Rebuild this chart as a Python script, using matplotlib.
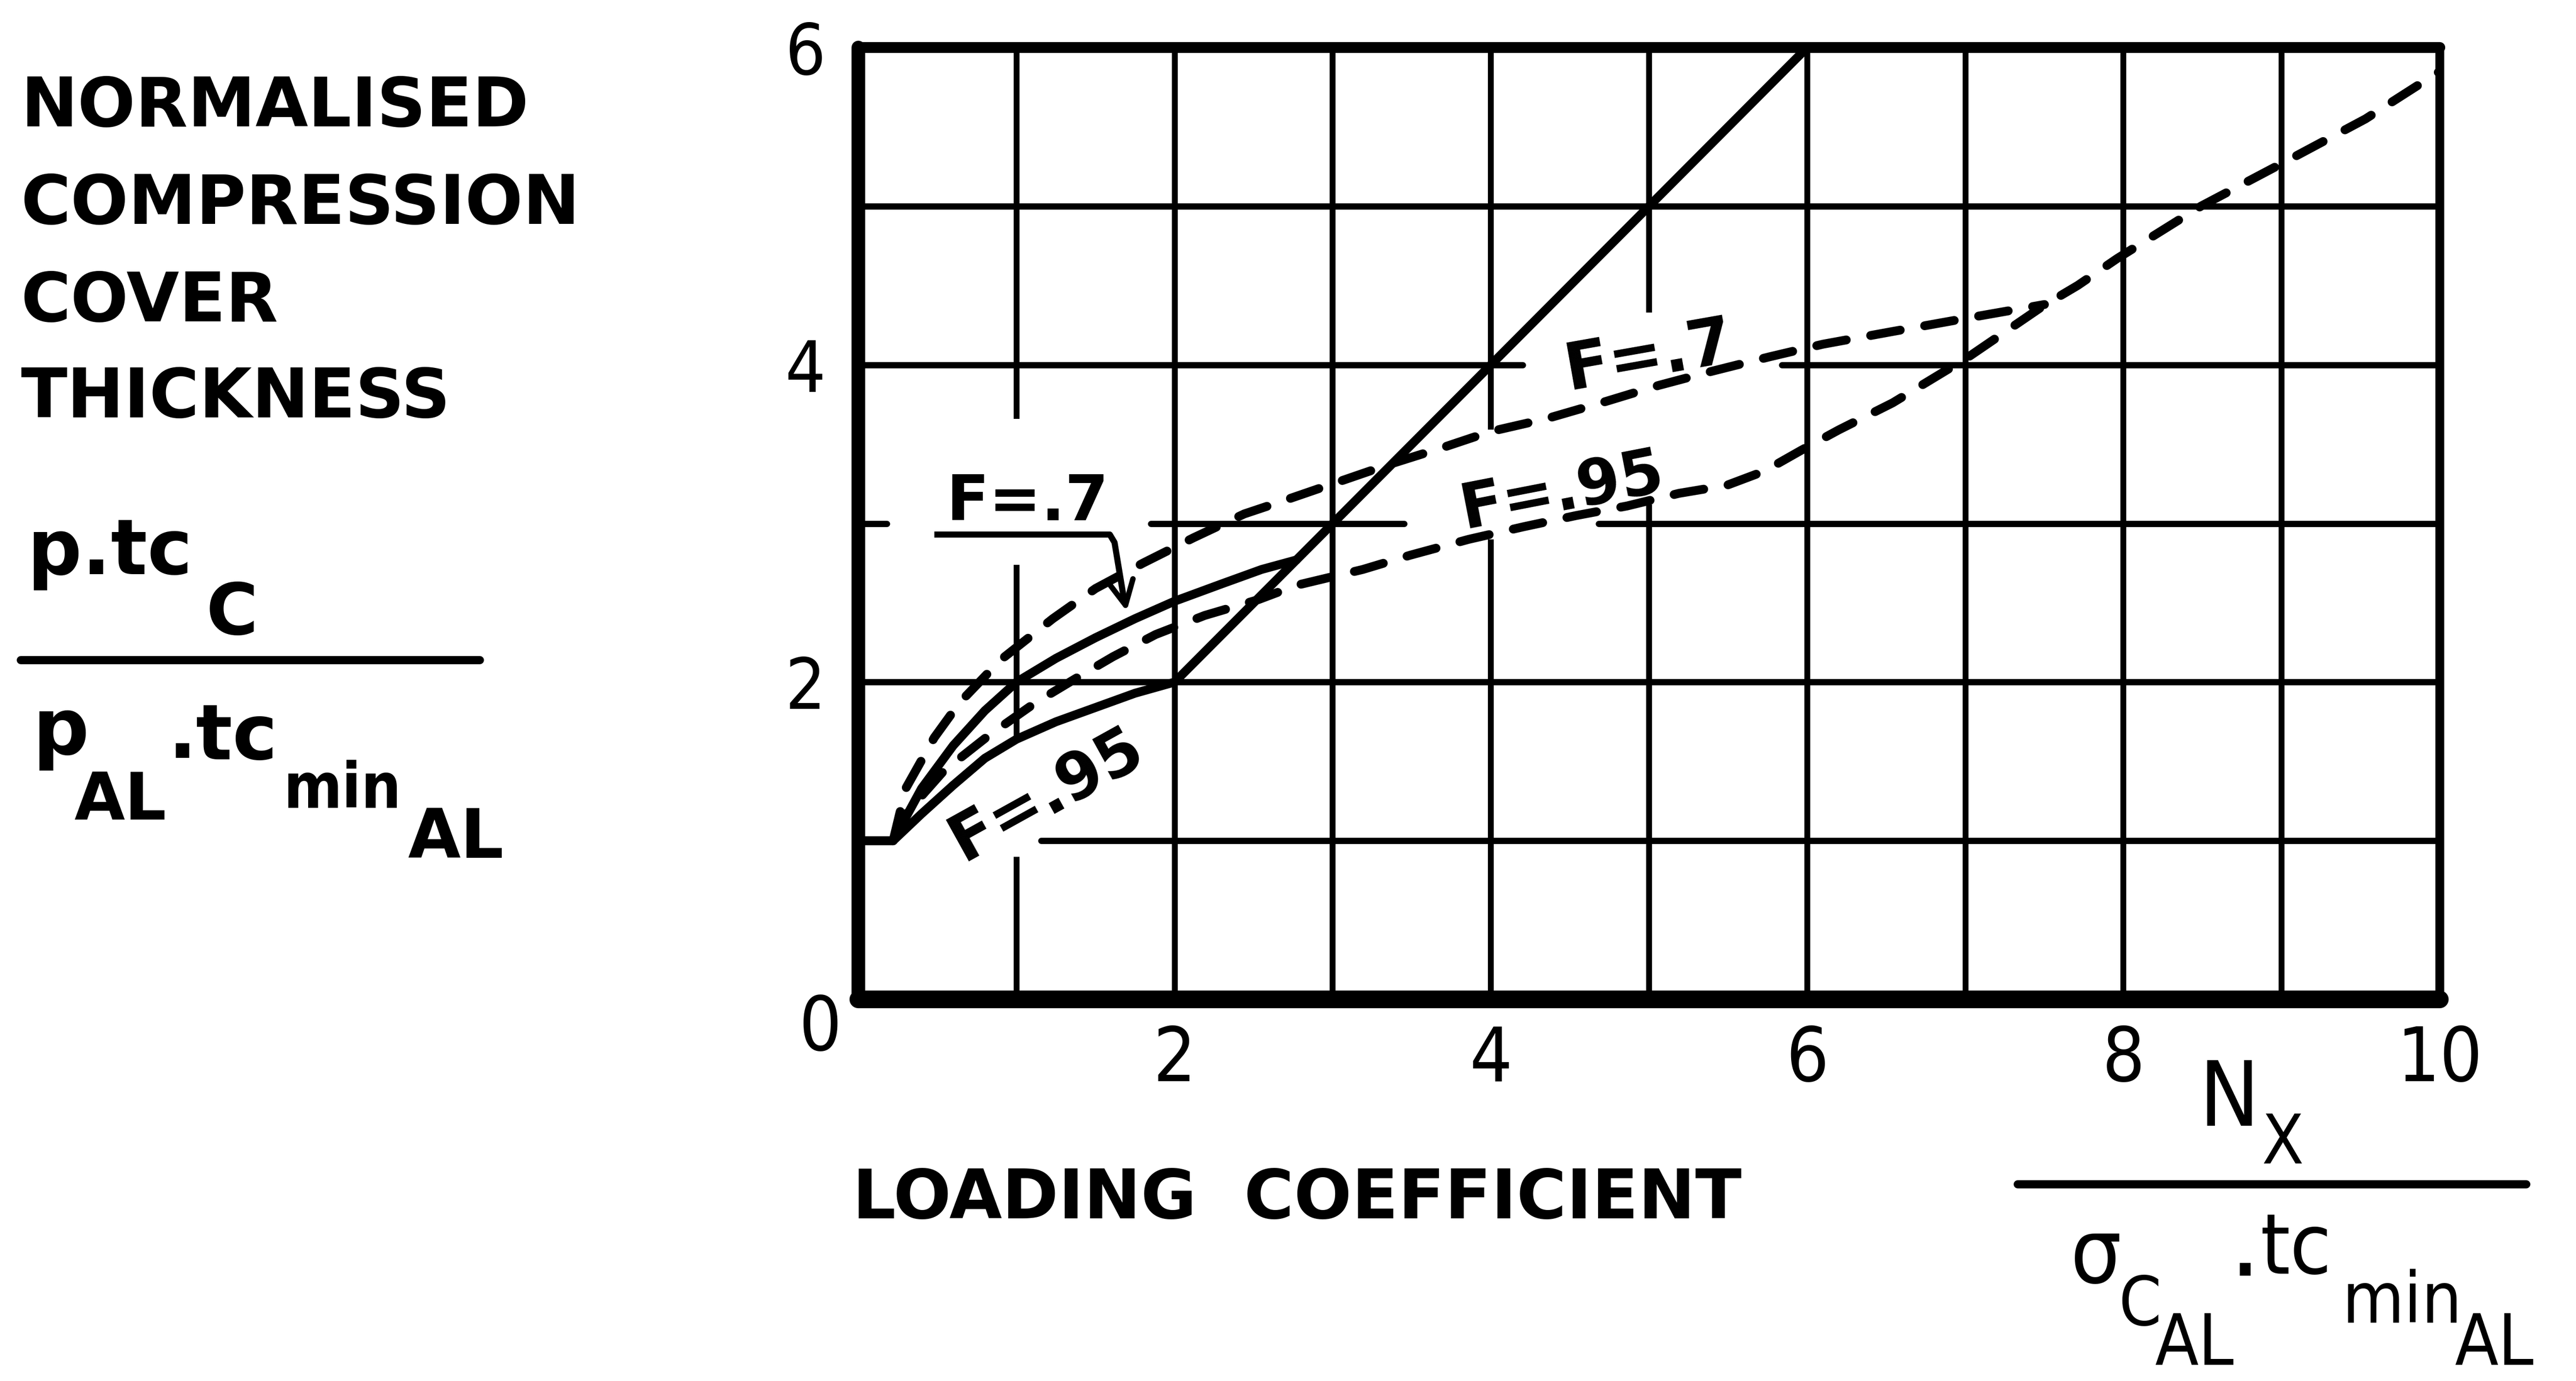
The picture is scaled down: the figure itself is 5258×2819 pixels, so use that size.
import matplotlib
matplotlib.use("Agg")
import matplotlib.pyplot as plt
from matplotlib.lines import Line2D

# ---------------- data ----------------
# solid curve, F = .95 (lower solid)
solid_f95_x = [0.0, 0.22, 0.4, 0.6, 0.8, 1.0, 1.25, 1.5, 1.75, 2.0]
solid_f95_y = [1.0, 1.0, 1.17, 1.35, 1.52, 1.64, 1.75, 1.84, 1.93, 2.0]
# solid curve, F = .7 (upper solid)
solid_f7_x = [0.0, 0.22, 0.4, 0.6, 0.8, 1.0, 1.25, 1.5, 1.75, 2.0, 2.3, 2.55, 2.77]
solid_f7_y = [1.0, 1.0, 1.33, 1.6, 1.82, 2.0, 2.15, 2.28, 2.4, 2.51, 2.62, 2.71, 2.77]
# straight solid line
diag_x = [2.0, 6.0]
diag_y = [2.0, 6.0]
# dashed curve, F = .7
dash_f7_x = [0.22, 0.3, 0.48, 0.64, 0.9, 1.23, 1.5, 1.8, 2.12, 2.44, 2.65, 3.0, 3.35,
             3.7, 4.0, 4.35, 4.73, 5.06, 5.4, 5.76, 6.1, 6.54, 7.1, 7.5]
dash_f7_y = [1.0, 1.33, 1.65, 1.87, 2.14, 2.4, 2.59, 2.75, 2.91, 3.06, 3.13, 3.25, 3.37,
             3.48, 3.58, 3.66, 3.77, 3.87, 3.96, 4.05, 4.13, 4.21, 4.31, 4.38]
# dashed curve, F = .95
dash_f95_x = [0.22, 0.3, 0.54, 0.82, 1.12, 1.37, 1.61, 1.88, 2.19, 2.53, 2.77, 3.19, 3.49,
              3.86, 4.21, 4.54, 4.86, 5.19, 5.49, 5.73, 5.96, 6.2, 6.54, 7.02, 7.49, 7.71,
              7.96, 8.49, 9.06, 9.53, 10.0]
dash_f95_y = [1.0, 1.17, 1.44, 1.66, 1.87, 2.02, 2.16, 2.3, 2.42, 2.52, 2.61, 2.71, 2.8,
              2.9, 2.98, 3.05, 3.11, 3.19, 3.24, 3.33, 3.46, 3.59, 3.76, 4.05, 4.37, 4.5,
              4.67, 5.0, 5.3, 5.55, 5.85]

x_ticks = [2, 4, 6, 8, 10]
x_tick_labels = ["2", "4", "6", "8", "10"]
y_ticks = [2, 4, 6]
y_tick_labels = ["2", "4", "6"]

# hand-drawn grid: pieces of each grid line (gaps left for the labels)
vgrid_x = [1, 1, 1, 2, 3, 4, 4, 5, 5, 6, 7, 8, 9]
vgrid_from = [0.0, 1.64, 3.66, 0.0, 0.0, 0.0, 3.59, 0.0, 4.33, 0.0, 0.0, 0.0, 0.0]
vgrid_to = [0.9, 2.74, 6.0, 6.0, 6.0, 2.9, 6.0, 3.12, 6.0, 6.0, 6.0, 6.0, 6.0]
hgrid_y = [1, 2, 3, 3, 3, 4, 4, 5]
hgrid_from = [1.155, 0.0, 0.0, 1.85, 4.68, 0.0, 5.84, 0.0]
hgrid_to = [10.0, 10.0, 0.18, 3.45, 10.0, 4.2, 10.0, 10.0]

# leader of the "F = .7" label
leader_x = [0.5, 1.59, 1.62, 1.675]
leader_y = [2.93, 2.93, 2.88, 2.55]

# ---------------- figure ----------------
W, H = 5258, 2819
DPI = 200
fig = plt.figure(figsize=(W / DPI, H / DPI), dpi=DPI, facecolor="white")

BASE = "DejaVu Sans"
NARROW = "DejaVu Sans"
STRETCH = "condensed"

L, R, B, T = 1752, 4980, 2040, 97
ax = fig.add_axes([L / W, 1 - B / H, (R - L) / W, (B - T) / H])
ax.set_xlim(0, 10)
ax.set_ylim(0, 6)

for side, lw in (("left", 10), ("bottom", 13), ("top", 8), ("right", 6.5)):
    ax.spines[side].set_linewidth(lw)
    ax.spines[side].set_color("black")
    ax.spines[side].set_capstyle("round")

ax.set_xticks(x_ticks)
ax.set_xticklabels(x_tick_labels, fontsize=55, family=NARROW, fontstretch=STRETCH)
ax.set_yticks(y_ticks)
ax.set_yticklabels(y_tick_labels, fontsize=52, family=NARROW, fontstretch=STRETCH)
ax.tick_params(axis="x", length=0, pad=18)
ax.tick_params(axis="y", length=0, pad=24)
ax.text(-0.24, -0.19, "0", fontsize=55, family=NARROW, fontstretch=STRETCH,
        ha="center", va="center", clip_on=False)

# grid
for x, a, b in zip(vgrid_x, vgrid_from, vgrid_to):
    ax.plot([x, x], [a, b], color="black", lw=4.3, solid_capstyle="butt", zorder=1)
for y, a, b in zip(hgrid_y, hgrid_from, hgrid_to):
    ax.plot([a, b], [y, y], color="black", lw=4.6, solid_capstyle="round", zorder=1)

# curves
curve_lw = 6.5
ax.plot(solid_f95_x, solid_f95_y, color="black", lw=curve_lw, zorder=3,
        solid_capstyle="round", solid_joinstyle="round")
ax.plot(solid_f7_x, solid_f7_y, color="black", lw=curve_lw, zorder=3,
        solid_capstyle="round", solid_joinstyle="round")
ax.plot(diag_x, diag_y, color="black", lw=curve_lw, zorder=3, solid_capstyle="round")
ax.plot(dash_f7_x, dash_f7_y, color="black", lw=curve_lw, zorder=3,
        dashes=(3.4, 2.8), dash_capstyle="round")
ax.plot(dash_f95_x, dash_f95_y, color="black", lw=curve_lw, zorder=3,
        dashes=(3.4, 2.8), dash_capstyle="round")

# label leader with arrow
ax.plot(leader_x, leader_y, color="black", lw=4.5, zorder=3, solid_joinstyle="round")
ax.annotate("", xy=(1.70, 2.43), xytext=(1.675, 2.56),
            arrowprops=dict(arrowstyle="->", lw=4.0, color="black", mutation_scale=45),
            zorder=3)

# curve labels
ax.text(1.07, 3.02, "F=.7", fontsize=46, fontweight="bold", family=BASE,
        ha="center", va="baseline", zorder=4)
ax.text(5.0, 4.05, "F=.7", fontsize=48, fontweight="bold", family=BASE,
        ha="center", va="center", rotation=10, rotation_mode="anchor", zorder=4)
ax.text(4.45, 3.2, "F=.95", fontsize=46, fontweight="bold", family=BASE,
        ha="center", va="center", rotation=11, rotation_mode="anchor", zorder=4)
ax.text(1.19, 1.29, "F=.95", fontsize=47, fontweight="bold", family=BASE,
        ha="center", va="center", rotation=29, rotation_mode="anchor", zorder=4)


# ---------------- texts outside the axes ----------------
def ftext(x, y, s, size, weight="normal", family=BASE, stretch="normal"):
    fig.text(x / W, 1 - y / H, s, fontsize=size, fontweight=weight, family=family,
             fontstretch=stretch, ha="left", va="baseline")


def fbar(x0, x1, y, lw=6):
    fig.add_artist(Line2D([x0 / W, x1 / W], [1 - y / H, 1 - y / H], lw=lw,
                          color="black", solid_capstyle="round"))


for line, base in zip(["NORMALISED", "COMPRESSION", "COVER", "THICKNESS"],
                      [258, 457, 656, 852]):
    ftext(42, base, line, 50, "bold")

# left fraction  p.tc_C / p_AL . tc_min_AL
ftext(56, 1172, "p.tc", 56, "bold")
ftext(421, 1295, "C", 52, "bold")
fbar(42, 979, 1347)
ftext(67, 1540, "p", 58, "bold")
ftext(151, 1673, "AL", 48, "bold")
ftext(342, 1547, ".", 56, "bold")
ftext(400, 1550, "tc", 56, "bold")
ftext(579, 1649, "min", 46, "bold", BASE, STRETCH)
ftext(832, 1751, "AL", 50, "bold")

# x-axis caption
ftext(1740, 2487, "LOADING  COEFFICIENT", 50, "bold")

# right fraction  N_X / sigma_C_AL . tc_min_AL
ftext(4489, 2298, "N", 66, "normal", NARROW, STRETCH)
ftext(4616, 2375, "X", 50, "normal", NARROW, STRETCH)
fbar(4118, 5156, 2417)
ftext(4226, 2618, "σ", 66, "normal", NARROW, STRETCH)
ftext(4325, 2705, "C", 50, "normal", NARROW, STRETCH)
ftext(4398, 2786, "AL", 52, "normal", NARROW, STRETCH)
ftext(4558, 2604, ".", 50, "bold", NARROW, STRETCH)
ftext(4614, 2600, "tc", 62, "normal", NARROW, STRETCH)
ftext(4780, 2700, "min", 52, "normal", NARROW, STRETCH)
ftext(5010, 2786, "AL", 52, "normal", NARROW, STRETCH)

fig.savefig("out.png", dpi=DPI, facecolor="white")
